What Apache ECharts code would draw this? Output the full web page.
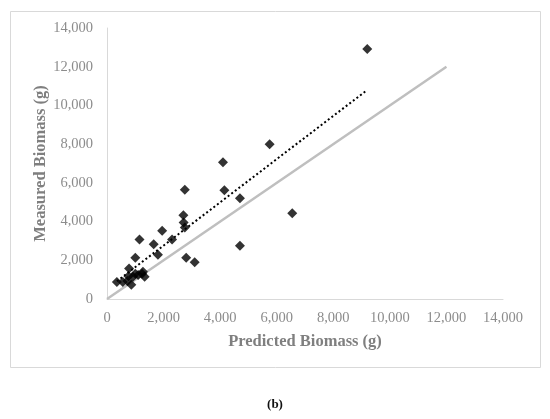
<!DOCTYPE html>
<html>
<head>
<meta charset="utf-8">
<script src="https://cdn.jsdelivr.net/npm/echarts@6/dist/echarts.min.js"></script>
<style>
html,body{margin:0;padding:0;background:#fff;}
#chart{width:550px;height:419px;}
</style>
</head>
<body>
<div id="chart"></div>
<script>
// predicted vs measured biomass (g)
var predicted = [350, 560, 720, 760, 780, 860, 920, 1000, 1100, 1000, 1270, 1330, 1240, 1150, 1650, 1800, 1950, 2300, 2700, 2710, 2750, 2750, 2800, 3100, 4100, 4150, 4700, 4700, 5750, 6550, 9200];
var measured  = [880, 880, 930, 1180, 1580, 730, 1150, 2130, 1240, 1300, 1410, 1150, 1300, 3080, 2830, 2290, 3520, 3080, 4330, 3950, 3700, 5650, 2130, 1900, 7060, 5620, 5200, 2750, 8000, 4430, 12920];

// 1:1 line and dotted trend
var lineX = [0, 12000];
var trendSlope = 1.116;
var trendIntercept = 530;

var pts = [];
for (var i = 0; i < predicted.length; i++) {
  pts.push([predicted[i], measured[i]]);
}
var minX = Math.min.apply(null, predicted);
var maxX = Math.max.apply(null, predicted);
var trend = [[minX, trendSlope * minX + trendIntercept], [maxX, trendSlope * maxX + trendIntercept]];
var oneToOne = lineX.map(function (v) { return [v, v]; });

function fmt(v) { return v.toLocaleString('en-US'); }

var myChart = echarts.init(document.getElementById('chart'));
myChart.setOption({
  backgroundColor: '#fff',
  animation: false,
  graphic: [
    {type: 'rect', shape: {x: 10.5, y: 11.5, width: 530, height: 356},
     style: {fill: 'none', stroke: '#d9d9d9', lineWidth: 1}},
    {type: 'text', left: 'center', top: 398,
     style: {text: '(b)', font: 'bold 13px "Liberation Serif"', fill: '#111'}}
  ],
  grid: {left: 107, right: 47, top: 28, bottom: 120},
  xAxis: {
    type: 'value', min: 0, max: 14000, interval: 2000,
    name: 'Predicted Biomass (g)', nameLocation: 'middle', nameGap: 34, nameMoveOverlap: false,
    nameTextStyle: {fontFamily: 'Liberation Serif', fontWeight: 'bold', fontSize: 16.5, color: '#7f7f7f'},
    axisLine: {lineStyle: {color: '#d9d9d9', width: 1}},
    axisTick: {show: false},
    splitLine: {show: false},
    axisLabel: {fontFamily: 'Liberation Serif', fontSize: 14.5, color: '#8c8c8c', margin: 12, formatter: fmt}
  },
  yAxis: {
    type: 'value', min: 0, max: 14000, interval: 2000,
    name: 'Measured Biomass (g)', nameLocation: 'middle', nameGap: 58, nameRotate: 90, nameMoveOverlap: false,
    nameTextStyle: {fontFamily: 'Liberation Serif', fontWeight: 'bold', fontSize: 16.5, color: '#7f7f7f'},
    axisLine: {show: true, lineStyle: {color: '#d9d9d9', width: 1}},
    axisTick: {show: false},
    splitLine: {show: false},
    axisLabel: {fontFamily: 'Liberation Serif', fontSize: 14.5, color: '#8c8c8c', margin: 14, formatter: fmt}
  },
  series: [
    {type: 'line', data: oneToOne, symbol: 'none', silent: true,
     lineStyle: {color: '#bfbfbf', width: 2.5}, z: 1},
    {type: 'line', data: trend, symbol: 'none', silent: true,
     lineStyle: {color: '#000', width: 2, type: [2, 2.5]}, z: 2},
    {type: 'scatter', data: pts, symbol: 'diamond', symbolSize: 10,
     itemStyle: {color: '#000'}, z: 3}
  ]
});
</script>
</body>
</html>
